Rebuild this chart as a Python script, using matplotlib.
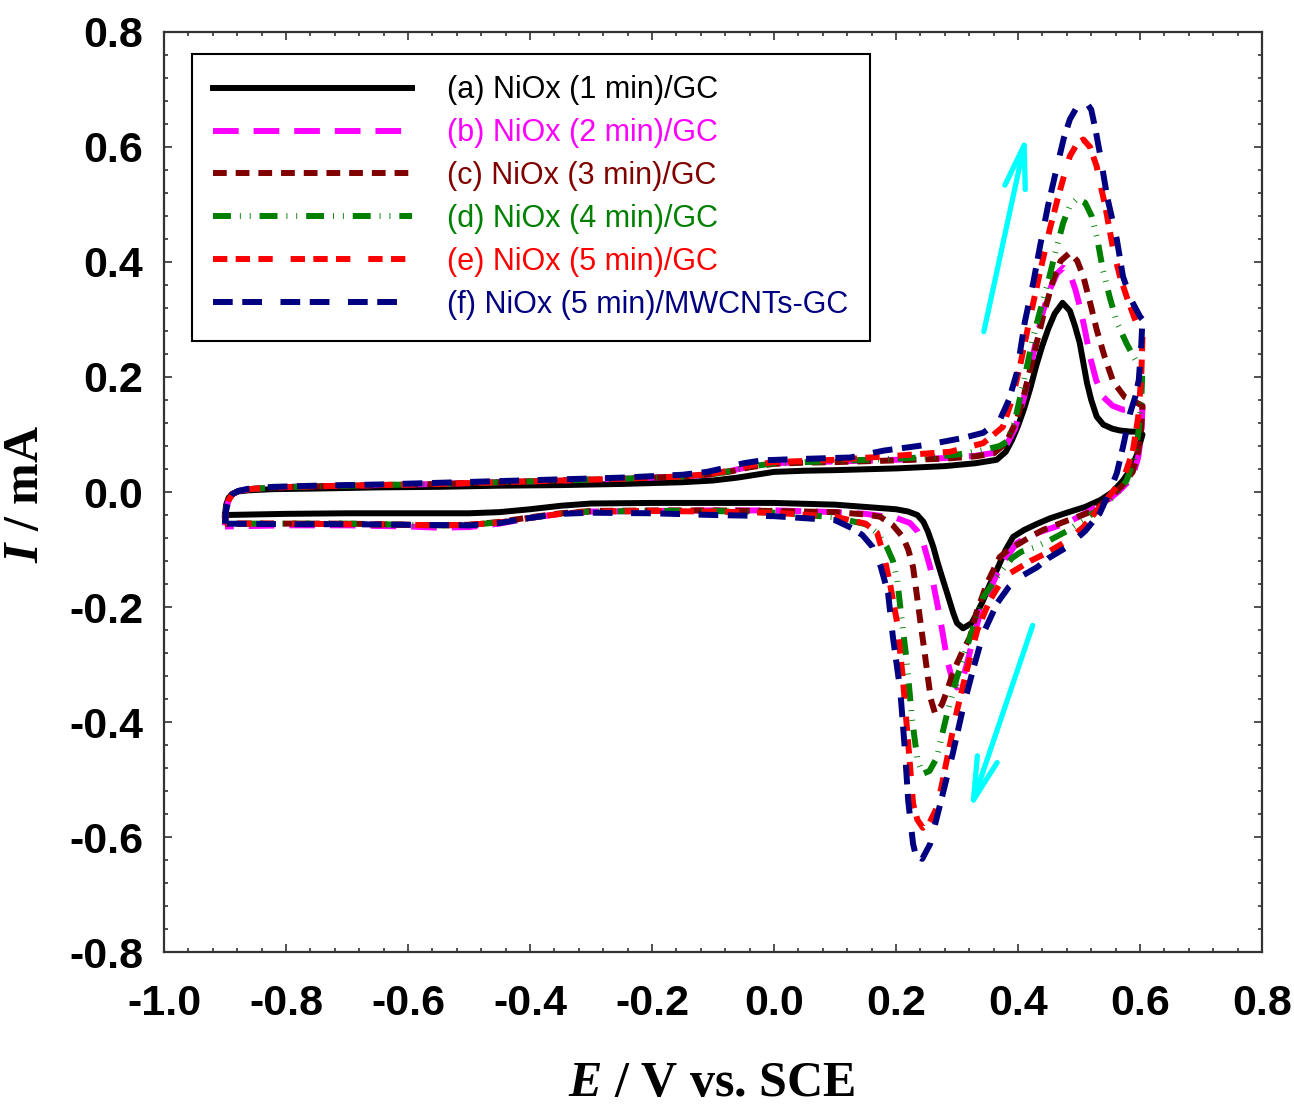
import matplotlib
matplotlib.use("Agg")
import matplotlib.pyplot as plt
from matplotlib import font_manager
from matplotlib.font_manager import FontProperties
from matplotlib.ticker import MultipleLocator

plt.rcParams["axes.unicode_minus"] = False
plt.rcParams["mathtext.fontset"] = "custom"
plt.rcParams["mathtext.it"] = "Liberation Serif:italic:bold"
plt.rcParams["mathtext.rm"] = "Liberation Serif:bold"

# cyclic voltammograms, forward (anodic) and reverse (cathodic) sweeps
a_fwd_E = [-0.900, -0.898, -0.894, -0.888, -0.878, -0.860, -0.820, -0.750, -0.650, -0.550, -0.450, -0.350, -0.250,
           -0.150, -0.100, -0.060, -0.030, 0.000, 0.050, 0.100, 0.200, 0.280, 0.330, 0.365, 0.380, 0.390, 0.400,
           0.410, 0.420, 0.430, 0.440, 0.450, 0.460, 0.473, 0.485, 0.493, 0.501, 0.507, 0.513, 0.520, 0.529, 0.540,
           0.555, 0.567, 0.585, 0.600, 0.604]
a_fwd_I = [-0.040, -0.022, -0.010, -0.003, 0.001, 0.003, 0.005, 0.006, 0.008, 0.009, 0.011, 0.012, 0.014, 0.017,
           0.020, 0.025, 0.030, 0.035, 0.037, 0.038, 0.041, 0.045, 0.050, 0.056, 0.070, 0.090, 0.115, 0.145, 0.180,
           0.220, 0.255, 0.285, 0.310, 0.329, 0.315, 0.290, 0.260, 0.225, 0.190, 0.160, 0.131, 0.117, 0.110, 0.107,
           0.105, 0.105, 0.100]
a_rev_E = [0.604, 0.600, 0.595, 0.585, 0.572, 0.555, 0.535, 0.510, 0.480, 0.452, 0.430, 0.410, 0.392, 0.380, 0.365,
           0.352, 0.343, 0.333, 0.324, 0.310, 0.300, 0.294, 0.285, 0.277, 0.268, 0.261, 0.252, 0.245, 0.235, 0.220,
           0.200, 0.150, 0.100, 0.000, -0.100, -0.200, -0.300, -0.350, -0.400, -0.450, -0.500, -0.600, -0.700,
           -0.800, -0.900]
a_rev_I = [0.100, 0.085, 0.065, 0.040, 0.020, 0.000, -0.014, -0.026, -0.036, -0.046, -0.056, -0.066, -0.078, -0.100,
           -0.136, -0.165, -0.188, -0.210, -0.228, -0.237, -0.228, -0.211, -0.180, -0.153, -0.122, -0.095, -0.068,
           -0.052, -0.040, -0.034, -0.030, -0.026, -0.022, -0.019, -0.019, -0.019, -0.020, -0.024, -0.030, -0.035,
           -0.037, -0.037, -0.037, -0.038, -0.040]

b_fwd_E = [-0.900, -0.898, -0.894, -0.888, -0.878, -0.860, -0.820, -0.750, -0.650, -0.550, -0.450, -0.350, -0.250,
           -0.150, -0.100, -0.070, -0.040, 0.000, 0.050, 0.100, 0.200, 0.280, 0.330, 0.360, 0.380, 0.395, 0.410,
           0.420, 0.430, 0.440, 0.452, 0.464, 0.474, 0.485, 0.494, 0.502, 0.510, 0.518, 0.528, 0.539, 0.555, 0.572,
           0.590, 0.604]
b_fwd_I = [-0.058, -0.030, -0.014, -0.004, 0.002, 0.005, 0.008, 0.010, 0.012, 0.014, 0.017, 0.020, 0.023, 0.027,
           0.031, 0.037, 0.044, 0.050, 0.052, 0.053, 0.056, 0.059, 0.063, 0.068, 0.080, 0.110, 0.165, 0.215, 0.265,
           0.310, 0.352, 0.380, 0.390, 0.380, 0.352, 0.320, 0.280, 0.235, 0.195, 0.166, 0.150, 0.143, 0.145, 0.148]
b_rev_E = [0.604, 0.602, 0.597, 0.590, 0.578, 0.567, 0.550, 0.529, 0.505, 0.480, 0.440, 0.415, 0.398, 0.380, 0.366,
           0.355, 0.343, 0.335, 0.327, 0.316, 0.308, 0.300, 0.292, 0.284, 0.278, 0.272, 0.264, 0.256, 0.245, 0.235,
           0.223, 0.200, 0.150, 0.100, 0.000, -0.100, -0.200, -0.300, -0.350, -0.400, -0.450, -0.500, -0.550,
           -0.600, -0.700, -0.800, -0.900]
b_rev_I = [0.148, 0.100, 0.060, 0.035, 0.015, 0.003, -0.012, -0.026, -0.040, -0.054, -0.068, -0.078, -0.089, -0.115,
           -0.141, -0.168, -0.193, -0.222, -0.253, -0.300, -0.330, -0.340, -0.325, -0.293, -0.255, -0.218, -0.175,
           -0.131, -0.090, -0.068, -0.054, -0.045, -0.038, -0.035, -0.032, -0.032, -0.033, -0.034, -0.038, -0.045,
           -0.055, -0.061, -0.062, -0.060, -0.058, -0.058, -0.060]

c_fwd_E = [-0.900, -0.898, -0.894, -0.888, -0.878, -0.860, -0.820, -0.750, -0.650, -0.550, -0.450, -0.350, -0.250,
           -0.150, -0.100, -0.070, -0.040, 0.000, 0.050, 0.100, 0.200, 0.280, 0.330, 0.360, 0.380, 0.398, 0.410,
           0.425, 0.441, 0.458, 0.470, 0.485, 0.497, 0.507, 0.518, 0.529, 0.542, 0.556, 0.575, 0.595, 0.604]
c_fwd_I = [-0.055, -0.030, -0.014, -0.004, 0.002, 0.005, 0.008, 0.010, 0.012, 0.014, 0.017, 0.020, 0.023, 0.027,
           0.031, 0.036, 0.043, 0.049, 0.051, 0.052, 0.055, 0.058, 0.062, 0.067, 0.085, 0.125, 0.170, 0.235, 0.305,
           0.370, 0.402, 0.416, 0.402, 0.375, 0.330, 0.282, 0.235, 0.192, 0.165, 0.155, 0.150]
c_rev_E = [0.604, 0.602, 0.597, 0.588, 0.570, 0.550, 0.530, 0.513, 0.480, 0.441, 0.420, 0.403, 0.385, 0.370, 0.360,
           0.349, 0.341, 0.333, 0.321, 0.310, 0.300, 0.290, 0.284, 0.275, 0.264, 0.257, 0.248, 0.239, 0.233, 0.228,
           0.220, 0.211, 0.195, 0.174, 0.150, 0.100, 0.000, -0.100, -0.200, -0.300, -0.350, -0.400, -0.450, -0.500,
           -0.550, -0.600, -0.700, -0.800, -0.900]
c_rev_I = [0.150, 0.110, 0.070, 0.035, 0.010, -0.010, -0.027, -0.037, -0.050, -0.066, -0.078, -0.089, -0.100, -0.113,
           -0.135, -0.159, -0.183, -0.206, -0.253, -0.275, -0.298, -0.325, -0.345, -0.370, -0.385, -0.360, -0.288,
           -0.218, -0.170, -0.131, -0.100, -0.078, -0.058, -0.043, -0.039, -0.035, -0.033, -0.032, -0.032, -0.033,
           -0.037, -0.044, -0.052, -0.057, -0.058, -0.057, -0.055, -0.055, -0.055]

d_fwd_E = [-0.900, -0.898, -0.894, -0.888, -0.878, -0.860, -0.820, -0.750, -0.650, -0.550, -0.450, -0.350, -0.250,
           -0.150, -0.100, -0.070, -0.040, 0.000, 0.050, 0.100, 0.200, 0.260, 0.300, 0.343, 0.370, 0.382, 0.395,
           0.410, 0.425, 0.437, 0.449, 0.462, 0.474, 0.485, 0.497, 0.510, 0.521, 0.530, 0.539, 0.550, 0.562, 0.578,
           0.595, 0.604]
d_fwd_I = [-0.055, -0.030, -0.014, -0.004, 0.002, 0.005, 0.008, 0.010, 0.012, 0.014, 0.017, 0.020, 0.023, 0.027,
           0.031, 0.037, 0.044, 0.050, 0.052, 0.054, 0.058, 0.061, 0.065, 0.073, 0.080, 0.088, 0.125, 0.195, 0.270,
           0.318, 0.364, 0.420, 0.468, 0.498, 0.510, 0.503, 0.479, 0.440, 0.387, 0.340, 0.295, 0.258, 0.225, 0.212]
d_rev_E = [0.604, 0.602, 0.597, 0.590, 0.578, 0.560, 0.535, 0.505, 0.480, 0.450, 0.425, 0.405, 0.390, 0.370, 0.356,
           0.343, 0.330, 0.316, 0.300, 0.285, 0.276, 0.267, 0.255, 0.244, 0.235, 0.226, 0.218, 0.212, 0.207, 0.202,
           0.195, 0.185, 0.170, 0.150, 0.100, 0.000, -0.100, -0.200, -0.300, -0.350, -0.400, -0.450, -0.500, -0.550,
           -0.600, -0.700, -0.800, -0.900]
d_rev_I = [0.212, 0.160, 0.100, 0.055, 0.020, -0.005, -0.028, -0.050, -0.068, -0.085, -0.097, -0.104, -0.115, -0.141,
           -0.163, -0.183, -0.225, -0.270, -0.322, -0.380, -0.420, -0.462, -0.485, -0.490, -0.465, -0.392, -0.298,
           -0.245, -0.200, -0.153, -0.120, -0.096, -0.072, -0.056, -0.044, -0.036, -0.033, -0.033, -0.034, -0.038,
           -0.045, -0.053, -0.057, -0.058, -0.057, -0.055, -0.055, -0.055]

e_fwd_E = [-0.900, -0.898, -0.894, -0.888, -0.878, -0.860, -0.820, -0.750, -0.650, -0.550, -0.450, -0.350, -0.250,
           -0.150, -0.100, -0.070, -0.040, 0.000, 0.050, 0.100, 0.200, 0.289, 0.343, 0.375, 0.390, 0.403, 0.420,
           0.436, 0.452, 0.466, 0.476, 0.485, 0.497, 0.507, 0.518, 0.529, 0.536, 0.543, 0.556, 0.567, 0.578, 0.590,
           0.600, 0.604]
e_fwd_I = [-0.055, -0.030, -0.014, -0.004, 0.002, 0.005, 0.008, 0.010, 0.012, 0.014, 0.017, 0.020, 0.023, 0.027,
           0.032, 0.038, 0.046, 0.052, 0.054, 0.056, 0.063, 0.070, 0.085, 0.113, 0.160, 0.218, 0.305, 0.382, 0.457,
           0.514, 0.552, 0.584, 0.606, 0.613, 0.600, 0.566, 0.530, 0.497, 0.422, 0.375, 0.340, 0.305, 0.277, 0.270]
e_rev_E = [0.604, 0.602, 0.597, 0.588, 0.575, 0.555, 0.535, 0.507, 0.480, 0.447, 0.420, 0.400, 0.387, 0.370, 0.354,
           0.343, 0.333, 0.316, 0.300, 0.284, 0.275, 0.267, 0.255, 0.244, 0.235, 0.228, 0.220, 0.211, 0.202, 0.190,
           0.180, 0.169, 0.150, 0.100, 0.000, -0.100, -0.200, -0.300, -0.350, -0.400, -0.450, -0.500, -0.550,
           -0.600, -0.700, -0.800, -0.900]
e_rev_I = [0.270, 0.200, 0.130, 0.070, 0.030, 0.000, -0.025, -0.061, -0.085, -0.106, -0.120, -0.133, -0.141, -0.160,
           -0.188, -0.215, -0.241, -0.310, -0.380, -0.462, -0.510, -0.549, -0.575, -0.584, -0.570, -0.542, -0.437,
           -0.322, -0.228, -0.159, -0.110, -0.071, -0.055, -0.043, -0.036, -0.034, -0.033, -0.034, -0.038, -0.045,
           -0.053, -0.057, -0.058, -0.057, -0.056, -0.055, -0.055]

f_fwd_E = [-0.900, -0.898, -0.894, -0.888, -0.878, -0.860, -0.820, -0.750, -0.650, -0.550, -0.450, -0.350, -0.250,
           -0.150, -0.110, -0.080, -0.050, -0.020, 0.030, 0.125, 0.180, 0.250, 0.310, 0.343, 0.370, 0.385, 0.398,
           0.411, 0.425, 0.436, 0.449, 0.464, 0.475, 0.485, 0.498, 0.510, 0.520, 0.527, 0.534, 0.546, 0.562, 0.572,
           0.585, 0.600, 0.604]
f_fwd_I = [-0.055, -0.030, -0.014, -0.004, 0.002, 0.006, 0.009, 0.011, 0.013, 0.016, 0.019, 0.022, 0.025, 0.030,
           0.035, 0.042, 0.050, 0.055, 0.057, 0.060, 0.072, 0.082, 0.094, 0.103, 0.125, 0.160, 0.207, 0.295, 0.364,
           0.427, 0.497, 0.566, 0.615, 0.648, 0.672, 0.680, 0.665, 0.630, 0.590, 0.514, 0.439, 0.375, 0.335, 0.305,
           0.300]
f_rev_E = [0.604, 0.602, 0.598, 0.592, 0.584, 0.572, 0.562, 0.551, 0.534, 0.510, 0.480, 0.450, 0.431, 0.403, 0.385,
           0.366, 0.343, 0.326, 0.310, 0.293, 0.275, 0.256, 0.243, 0.232, 0.228, 0.220, 0.215, 0.207, 0.195, 0.187,
           0.175, 0.162, 0.145, 0.128, 0.100, 0.000, -0.100, -0.200, -0.300, -0.350, -0.400, -0.450, -0.500,
           -0.600, -0.700, -0.800, -0.900]
f_rev_I = [0.300, 0.255, 0.195, 0.165, 0.138, 0.078, 0.033, 0.003, -0.037, -0.068, -0.096, -0.115, -0.131, -0.148,
           -0.165, -0.193, -0.246, -0.310, -0.375, -0.455, -0.532, -0.612, -0.638, -0.630, -0.612, -0.537, -0.455,
           -0.345, -0.253, -0.176, -0.130, -0.096, -0.075, -0.063, -0.049, -0.042, -0.040, -0.037, -0.036, -0.038,
           -0.045, -0.054, -0.058, -0.057, -0.056, -0.056, -0.055]

labels = ["(a) NiOx (1 min)/GC", "(b) NiOx (2 min)/GC", "(c) NiOx (3 min)/GC",
          "(d) NiOx (4 min)/GC", "(e) NiOx (5 min)/GC", "(f) NiOx (5 min)/MWCNTs-GC"]
colors = ["#000000", "#FF00FF", "#800000", "#008000", "#FF0000", "#000080"]
dashes = [None, (4.3, 2.5), (2.3, 1.5), (3.0, 1.5, 0.15, 1.5, 0.15, 1.5),
          (2.4, 1.4, 2.4, 1.4, 2.4, 3.0), (3.3, 1.6, 3.3, 3.1)]

x_ticks = [-1.0, -0.8, -0.6, -0.4, -0.2, 0.0, 0.2, 0.4, 0.6, 0.8]
x_tick_labels = ["-1.0", "-0.8", "-0.6", "-0.4", "-0.2", "0.0", "0.2", "0.4", "0.6", "0.8"]
y_ticks = [-0.8, -0.6, -0.4, -0.2, 0.0, 0.2, 0.4, 0.6, 0.8]
y_tick_labels = ["-0.8", "-0.6", "-0.4", "-0.2", "0.0", "0.2", "0.4", "0.6", "0.8"]

curves = [
    (a_fwd_E + a_rev_E, a_fwd_I + a_rev_I),
    (b_fwd_E + b_rev_E, b_fwd_I + b_rev_I),
    (c_fwd_E + c_rev_E, c_fwd_I + c_rev_I),
    (d_fwd_E + d_rev_E, d_fwd_I + d_rev_I),
    (e_fwd_E + e_rev_E, e_fwd_I + e_rev_I),
    (f_fwd_E + f_rev_E, f_fwd_I + f_rev_I),
]

names = {f.name for f in font_manager.fontManager.ttflist}
if "Liberation Sans Narrow" in names:
    sans, tick_size, leg_size = "Liberation Sans Narrow", 34, 25
else:
    sans, tick_size, leg_size = "Liberation Sans", 31, 22
tick_fp = FontProperties(family=sans, weight="bold", size=tick_size)
leg_fp = FontProperties(family=sans, size=leg_size)
label_fp = FontProperties(family="Liberation Serif", weight="bold", size=36)

fig = plt.figure(figsize=(12.94, 11.06), dpi=100)
ax = fig.add_axes([0.1267, 0.1392, 0.8486, 0.8319])

lines = []
for (E, I), lab, col, ds in zip(curves, labels, colors, dashes):
    ln, = ax.plot(E, I, color=col, lw=4.3, label=lab, solid_joinstyle="round",
                  dash_capstyle="butt")
    if ds is not None:
        ln.set_dashes(ds)
    lines.append(ln)

# sweep direction arrows
arrow_kw = dict(arrowstyle="->,head_length=3.1,head_width=0.75", color="#00FFFF", lw=3.8,
                shrinkA=0, shrinkB=0, mutation_scale=10)
ax.annotate("", xy=(0.414, 0.622), xytext=(0.344, 0.279), arrowprops=arrow_kw)
ax.annotate("", xy=(0.321, -0.554), xytext=(0.424, -0.232), arrowprops=arrow_kw)

ax.set_xlim(-1.0, 0.8)
ax.set_ylim(-0.8, 0.8)
ax.set_xticks(x_ticks)
ax.set_xticklabels(x_tick_labels, fontproperties=tick_fp)
ax.set_yticks(y_ticks)
ax.set_yticklabels(y_tick_labels, fontproperties=tick_fp)
ax.xaxis.set_minor_locator(MultipleLocator(0.04))
ax.yaxis.set_minor_locator(MultipleLocator(0.04))
ax.tick_params(which="both", direction="in", top=True, right=True, width=1.2, color="#333333")
ax.tick_params(which="major", length=6)
ax.tick_params(which="minor", length=3)
ax.tick_params(axis="x", which="major", pad=23)
ax.tick_params(axis="y", which="major", pad=15)
for sp in ax.spines.values():
    sp.set_linewidth(1.6)
    sp.set_color("#333333")

ax.set_xlabel(r"$E$ / V vs. SCE", fontproperties=label_fp)
ax.set_ylabel(r"$I$ / mA", fontproperties=label_fp)
ax.xaxis.set_label_coords(0.499, -0.118)
ax.yaxis.set_label_coords(-0.105, 0.498)

leg = ax.legend(handles=lines, loc="upper left", bbox_to_anchor=(0.0255, 0.976), borderaxespad=0,
                prop=leg_fp, handlelength=6.5, handletextpad=1.15, labelspacing=0.42,
                borderpad=0.7, fancybox=False, framealpha=1, edgecolor="black")
leg.get_frame().set_linewidth(1.5)
for txt, col in zip(leg.get_texts(), colors):
    txt.set_color(col)

fig.savefig("out.png", dpi=100)
